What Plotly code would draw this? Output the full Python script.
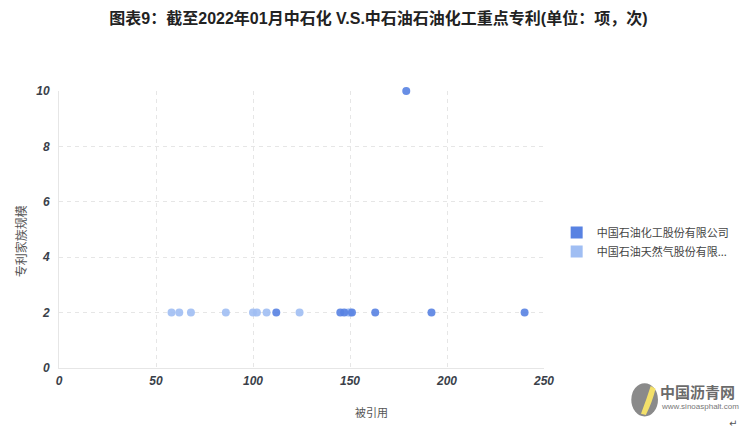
import plotly.graph_objects as go

sinopec_name = "中国石油化工股份有限公司"
petrochina_name = "中国石油天然气股份有限..."

sinopec_cited = [112, 145, 147, 151, 163, 179, 192, 240]
sinopec_family = [2, 2, 2, 2, 2, 10, 2, 2]

petrochina_cited = [58, 62, 68, 86, 100, 102, 107, 124, 149, 150]
petrochina_family = [2, 2, 2, 2, 2, 2, 2, 2, 2, 2]

x_ticks = [0, 50, 100, 150, 200, 250]
y_ticks = [0, 2, 4, 6, 8, 10]

dark = "rgb(88,130,226)"
light = "rgb(160,190,243)"

fig = go.Figure()
fig.add_trace(go.Scatter(x=petrochina_cited, y=petrochina_family, mode="markers",
                         marker=dict(color=light, size=8, opacity=0.9), showlegend=False,
                         cliponaxis=False))
fig.add_trace(go.Scatter(x=sinopec_cited, y=sinopec_family, mode="markers",
                         marker=dict(color=dark, size=8, opacity=0.9), showlegend=False,
                         cliponaxis=False))
# legend entries with square swatches
fig.add_trace(go.Scatter(x=[None], y=[None], mode="markers", name=sinopec_name, legendgroup="a",
                         marker=dict(color=dark, size=12, symbol="square")))
fig.add_trace(go.Scatter(x=[None], y=[None], mode="markers", name=petrochina_name, legendgroup="b",
                         marker=dict(color=light, size=12, symbol="square")))

tickfont = dict(family="Liberation Sans, Arial", size=12, color="#3a3f4a", style="italic", weight="bold")

fig.update_layout(
    width=745, height=436,
    margin=dict(l=59, r=200, t=91, b=68),
    paper_bgcolor="white", plot_bgcolor="white",
    title=dict(text="图表9：截至2022年01月中石化 V.S.中石油石油化工重点专利(单位：项，次)",
               x=0.508, xanchor="center", y=0.958, yanchor="middle",
               font=dict(family="Liberation Sans, Noto Sans CJK SC", size=16, color="#222", weight="bold"),
               automargin=False),
    xaxis=dict(range=[0, 250], tickvals=x_ticks, tickfont=tickfont, automargin=False,
               showgrid=True, gridcolor="#e6e6e6", griddash="4px,4px", gridwidth=1,
               showline=True, linecolor="#e6e6e6", linewidth=1, zeroline=False,
               ticks="", ticklabelstandoff=2),
    yaxis=dict(range=[0, 10], tickvals=y_ticks, tickfont=tickfont, automargin=False,
               showgrid=True, gridcolor="#e6e6e6", griddash="4px,4px", gridwidth=1,
               showline=True, linecolor="#e6e6e6", linewidth=1, zeroline=False,
               ticks="", ticklabelstandoff=6),
    legend=dict(x=1.024, y=0.455, xanchor="left", yanchor="middle",
                font=dict(family="Noto Sans CJK SC", size=11, color="#444"),
                itemsizing="constant", tracegroupgap=0),
    showlegend=True,
)

# axis titles
fig.add_annotation(text="被引用", xref="paper", yref="paper", x=0.645, y=-0.159,
                   xanchor="center", yanchor="middle", showarrow=False,
                   font=dict(family="Noto Sans CJK SC", size=11, color="#555"))
fig.add_annotation(text="专利家族规模", xref="paper", yref="paper", x=-0.080, y=0.458,
                   xanchor="center", yanchor="middle", showarrow=False, textangle=-90,
                   font=dict(family="Noto Sans CJK SC", size=12, color="#555"))

fig.add_annotation(text="<b>中国沥青网</b>", xref="paper", yref="paper", x=1.235, y=-0.085,
                   xanchor="left", yanchor="middle", showarrow=False,
                   font=dict(family="Noto Sans CJK SC", size=15, color="#6b6b6b"))
fig.add_annotation(text="www.sinoasphalt.com", xref="paper", yref="paper", x=1.237, y=-0.14,
                   xanchor="left", yanchor="middle", showarrow=False,
                   font=dict(family="Liberation Sans", size=8, color="#777"))
fig.add_annotation(text="↵", xref="paper", yref="paper", x=1.39, y=-0.2,
                   xanchor="center", yanchor="middle", showarrow=False,
                   font=dict(family="DejaVu Sans", size=10, color="#555"))
fig.add_shape(type="circle", xref="paper", yref="paper", x0=1.18, x1=1.235, y0=-0.175, y1=-0.055,
              fillcolor="#8a8a8a", line=dict(width=0))
fig.add_shape(type="path", xref="paper", yref="paper",
              path="M 1.20 -0.165 Q 1.212 -0.11 1.22 -0.065 L 1.23 -0.075 Q 1.224 -0.12 1.21 -0.17 Z",
              fillcolor="#f3e06a", line=dict(width=0))

fig.write_html("out.html", config={"displayModeBar": False},
               post_script="document.body.style.margin='0';")
